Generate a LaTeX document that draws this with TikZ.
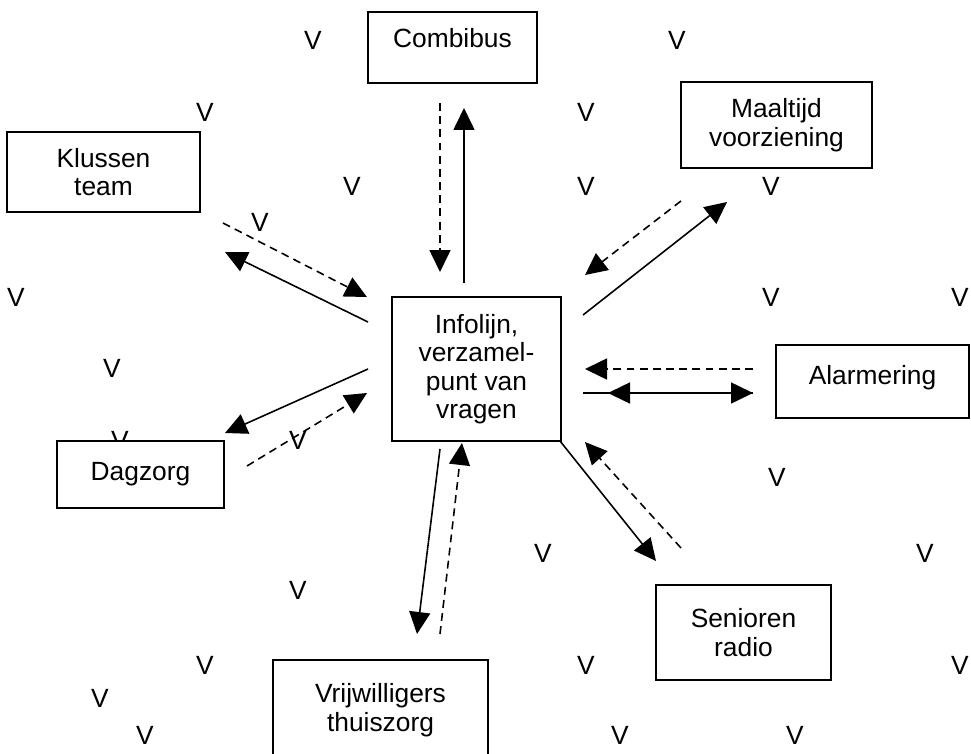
\documentclass[tikz,border=0pt]{standalone}
\usepackage{fontspec}
\setmainfont{Liberation Sans}
\usetikzlibrary{arrows.meta}

\begin{document}
\begin{tikzpicture}[x=0.02cm,y=-0.02cm,font=\fontsize{15}{16.2}\selectfont,
                    box/.style={draw,fill=white,line width=0.8pt,align=center,inner sep=0pt},
                    vmark/.style={inner sep=0pt},
                    arr/.style={-{Triangle[length=0.44cm,width=0.42cm]},line width=0.9pt},
                    darr/.style={arr,dash pattern=on 4.5pt off 3pt}]
  \useasboundingbox (0,0) rectangle (971,754);
  \clip (0,0) rectangle (971,754);

  % loose V marks
  \foreach \x/\y [count=\i] in {313/40, 677/40, 205/112, 586/112, 352/186, 586/186, 771/186,
                                260/222, 16/297, 771/297, 960/297, 112/368, 120/440, 298/440,
                                777/477, 543/553, 925/553, 298/590, 205/665, 586/665, 960/665,
                                100/698, 145/735, 620/735, 795/735}
    \node[vmark] (v\i) at (\x,\y) {V};

  % boxes
  \node[box,minimum width=3.38cm,minimum height=1.42cm,text height=0.4cm,text depth=0.4cm] (comb) at (452.5,47.5) {Combibus};
  \node[box,minimum width=3.82cm,minimum height=1.72cm] (maal) at (776.5,125) {Maaltijd\\voorziening};
  \node[box,minimum width=3.86cm,minimum height=1.60cm] (klus) at (103.5,172) {Klussen\\team};
  \node[box,minimum width=3.38cm,minimum height=2.88cm] (info) at (476.5,369) {Infolijn,\\verzamel-\\punt van\\vragen};
  \node[box,minimum width=3.86cm,minimum height=1.46cm,text height=0.4cm,text depth=0.28cm] (alarm) at (872.5,381.5) {Alarmering};
  \node[box,minimum width=3.34cm,minimum height=1.34cm] (dag) at (140.5,474.5) {Dagzorg};
  \node[box,minimum width=3.50cm,minimum height=1.90cm] (sen) at (743.5,632.5) {Senioren\\radio};
  \node[box,minimum width=4.30cm,minimum height=2.00cm] (vrij) at (380.5,710) {Vrijwilligers\\thuiszorg};

  % arrow ends
  \coordinate (combD1) at (440,103);  \coordinate (combD2) at (440,272);
  \coordinate (combS1) at (464,283);  \coordinate (combS2) at (464,108);
  \coordinate (klusD1) at (223,223);  \coordinate (klusD2) at (367,297);
  \coordinate (klusS1) at (368,322);  \coordinate (klusS2) at (225,252);
  \coordinate (maalD1) at (681,201);  \coordinate (maalD2) at (585,275);
  \coordinate (maalS1) at (583,315);  \coordinate (maalS2) at (727,202);
  \coordinate (alarmD1) at (753,369); \coordinate (alarmD2) at (585,369);
  \coordinate (alarmS1) at (583,393); \coordinate (alarmS2) at (753,393);
  \coordinate (alarmS3) at (608,393);
  \coordinate (dagS1) at (368,369);   \coordinate (dagS2) at (225,433);
  \coordinate (dagD1) at (247,466);   \coordinate (dagD2) at (367,393);
  \coordinate (senS1) at (560,441);   \coordinate (senS2) at (656,561);
  \coordinate (senD1) at (681,548);   \coordinate (senD2) at (585,442);
  \coordinate (vrijS1) at (440,449);  \coordinate (vrijS2) at (417,634);
  \coordinate (vrijD1) at (440,634);  \coordinate (vrijD2) at (462,443);

  \path (combD1)  edge [darr] (combD2)
        (combS1)  edge [arr]  (combS2)
        (klusD1)  edge [darr] (klusD2)
        (klusS1)  edge [arr]  (klusS2)
        (maalD1)  edge [darr] (maalD2)
        (maalS1)  edge [arr]  (maalS2)
        (alarmD1) edge [darr] (alarmD2)
        (alarmS1) edge [arr]  (alarmS2)
        (alarmS2) edge [arr]  (alarmS3)
        (dagS1)   edge [arr]  (dagS2)
        (dagD1)   edge [darr] (dagD2)
        (senS1)   edge [arr]  (senS2)
        (senD1)   edge [darr] (senD2)
        (vrijS1)  edge [arr]  (vrijS2)
        (vrijD1)  edge [darr] (vrijD2);
\end{tikzpicture}
\end{document}
